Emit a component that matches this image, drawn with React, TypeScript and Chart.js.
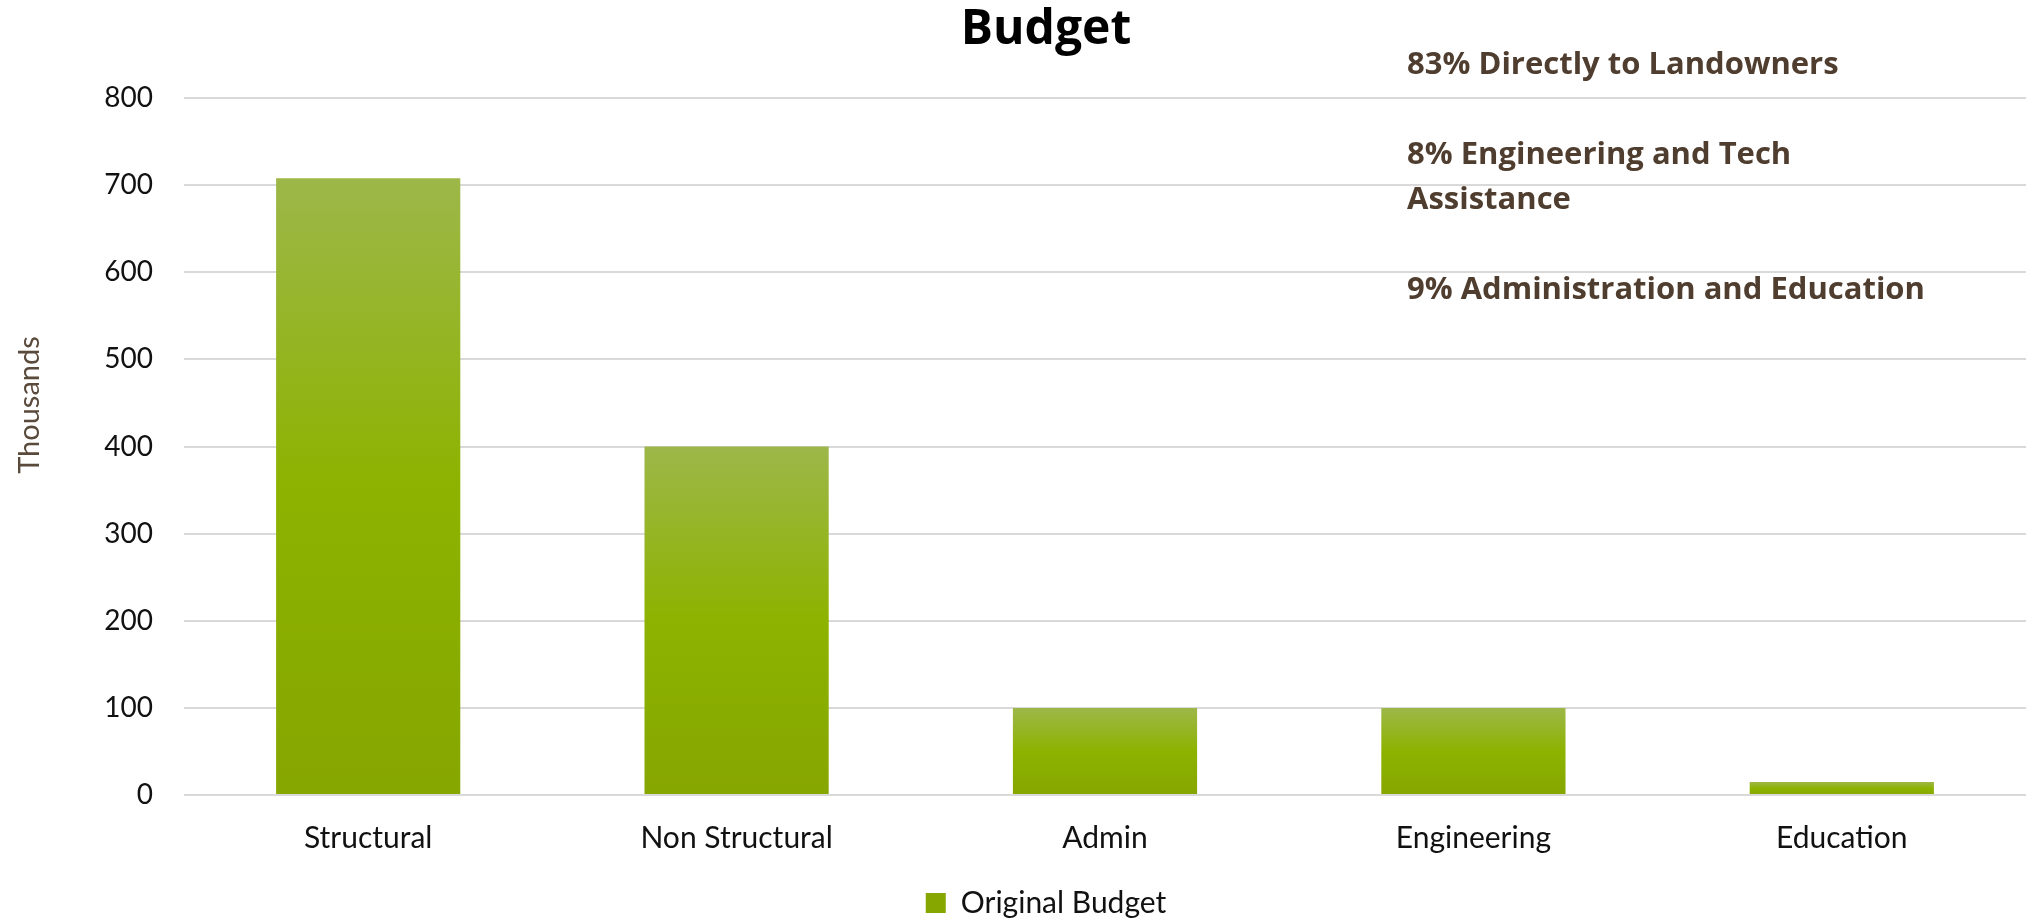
import React, { useEffect, useRef } from "react";
import { Chart, registerables } from "chart.js";

Chart.register(...registerables);

const chartTitle = "Budget";
const categories = ["Structural", "Non Structural", "Admin", "Engineering", "Education"];
const seriesLabel = "Original Budget";
const originalBudget = [708, 400, 100, 100, 15];
const yMin = 0;
const yMax = 800;
const yStep = 100;
const yAxisTitle = "Thousands";
const noteLines = [
  "83% Directly to Landowners",
  "",
  "8% Engineering and Tech",
  "Assistance",
  "",
  "9% Administration and Education",
];

const gradientStops: [number, string][] = [
  [0, "#9db749"],
  [0.5, "#8db300"],
  [1, "#86a600"],
];

const notesPlugin = {
  id: "notes",
  afterDraw(chart: any) {
    const ctx = chart.ctx;
    ctx.save();
    ctx.font = 'bold 31px "Open Sans"';
    ctx.fillStyle = "#4f3e2f";
    ctx.textAlign = "left";
    ctx.textBaseline = "alphabetic";
    noteLines.forEach((t, i) => {
      if (t) ctx.fillText(t, 1407, 74 + i * 45);
    });
    ctx.restore();

    ctx.save();
    ctx.translate(30, 405);
    ctx.rotate(-Math.PI / 2);
    ctx.font = '29px "Lato"';
    ctx.fillStyle = "#5a4a3c";
    ctx.textAlign = "center";
    ctx.textBaseline = "middle";
    ctx.fillText(yAxisTitle, 0, 0);
    ctx.restore();
  },
};

export default function App() {
  const ref = useRef<HTMLCanvasElement | null>(null);

  useEffect(() => {
    document.body.style.margin = "0";
    const canvas = ref.current;
    if (!canvas) return;
    const chart = new Chart(canvas, {
      type: "bar",
      data: {
        labels: categories,
        datasets: [
          {
            label: seriesLabel,
            data: originalBudget,
            categoryPercentage: 1,
            barPercentage: 0.5,
            borderWidth: 0,
            backgroundColor: (c: any) => {
              const ch = c.chart;
              if (!ch.chartArea || !c.parsed || c.parsed.y == null) return "#8db300";
              const ys = ch.scales.y;
              const top = ys.getPixelForValue(c.parsed.y);
              const bottom = ys.getPixelForValue(0);
              if (!isFinite(top) || !isFinite(bottom) || top === bottom) return "#8db300";
              const g = ch.ctx.createLinearGradient(0, top, 0, bottom);
              gradientStops.forEach(([o, col]) => g.addColorStop(o, col));
              return g;
            },
          },
        ],
      },
      options: {
        responsive: false,
        animation: false,
        layout: { padding: { left: 66, right: 0, top: 0, bottom: -9 } },
        plugins: {
          title: {
            display: true,
            text: chartTitle,
            color: "#000000",
            font: { family: "Open Sans", weight: "bold", size: 48 },
            padding: { top: 2, bottom: 38.4 },
          },
          legend: {
            display: true,
            position: "bottom",
            labels: {
              boxWidth: 20,
              boxHeight: 20,
              color: "#111111",
              font: { family: "Lato", size: 30 },
              padding: 10,
            },
          },
          tooltip: { enabled: false },
        },
        scales: {
          x: {
            grid: { display: false, drawTicks: false },
            border: { display: false },
            ticks: {
              color: "#111111",
              font: { family: "Lato", size: 30 },
              padding: 25,
            },
            afterFit: (s: any) => {
              s.height = 83;
            },
          },
          y: {
            min: yMin,
            max: yMax,
            grid: { color: "#d9d9d9", lineWidth: 2, drawTicks: false },
            border: { display: false },
            ticks: {
              stepSize: yStep,
              color: "#111111",
              font: { family: "Lato", size: 28 },
              padding: 31,
            },
            afterFit: (s: any) => {
              s.width = 118;
            },
          },
        },
      },
      plugins: [notesPlugin],
    } as any);
    return () => chart.destroy();
  }, []);

  return (
    <div style={{ width: 2026, height: 919 }}>
      <canvas ref={ref} width={2026} height={919} style={{ display: "block" }} />
    </div>
  );
}
